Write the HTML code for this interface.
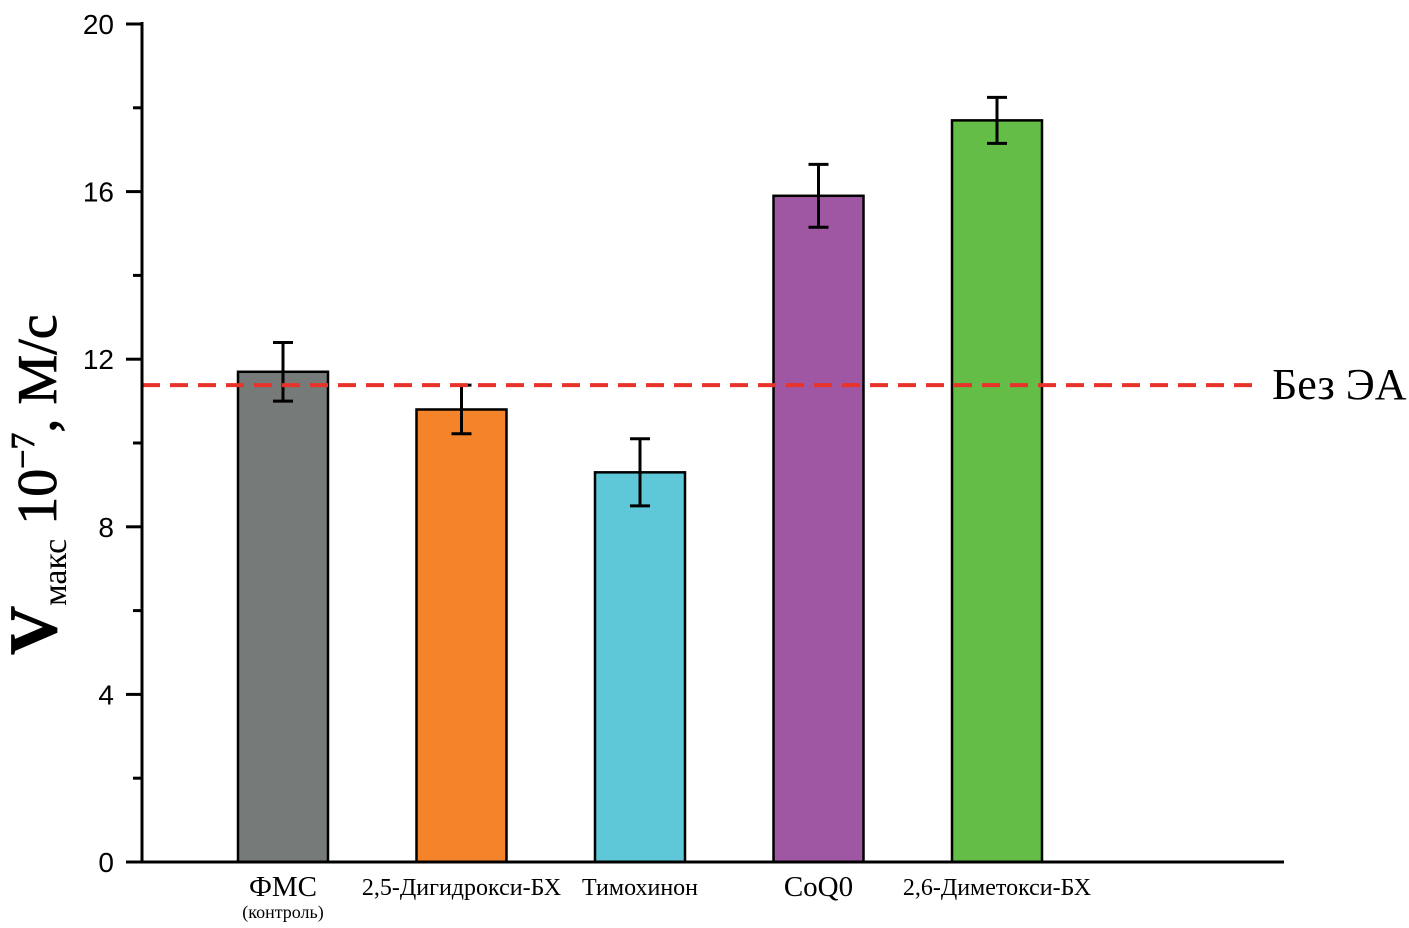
<!DOCTYPE html>
<html><head><meta charset="utf-8"><style>body{margin:0;background:#fff}svg{display:block}</style></head>
<body>
<svg width="1409" height="928" xmlns="http://www.w3.org/2000/svg" id="chart">
<g id="plot"></g>
<text transform="translate(56,655) rotate(-90)" font-family="Liberation Serif, serif" font-size="56" fill="#000" stroke="#000" stroke-width="0.8"><tspan font-size="68" font-weight="bold">V</tspan><tspan font-size="34" stroke-width="0" dy="10">макс</tspan><tspan dy="-10"> 10</tspan><tspan font-size="34" dy="-22">−7</tspan><tspan dy="22">, М/с</tspan></text>
<text x="1272" y="399" font-family="Liberation Serif, serif" font-size="44" fill="#000">Без ЭА</text>
</svg>
<script>
const categories=["ФМС","2,5-Дигидрокси-БХ","Тимохинон","CoQ0","2,6-Диметокси-БХ"];
const values=[11.7,10.8,9.3,15.9,17.7];
const errors=[0.7,0.58,0.8,0.75,0.55];
const colors=["#767a78","#f5832a","#5ec8d8","#a057a3","#63bd47"];
const yTicks=[0,4,8,12,16,20];
const minorTicks=[2,6,10,14,18];
const refValue=11.38;
const NS="http://www.w3.org/2000/svg";
const g=document.getElementById('plot');
const y=v=>862-v*41.9;
const xc=i=>283+i*178.5;
function el(t,a,txt){const e=document.createElementNS(NS,t);for(const k in a)e.setAttribute(k,a[k]);if(txt!==undefined)e.textContent=txt;g.appendChild(e);return e;}
values.forEach((v,i)=>{
 const b=el('rect',{x:xc(i)-45,y:y(v),width:90,height:862-y(v),fill:colors[i],stroke:'#000','stroke-width':2.5});
 
 
 const e=errors[i];
 const eb=el('path',{d:`M${xc(i)},${y(v+e)}V${y(v-e)}M${xc(i)-10},${y(v+e)}H${xc(i)+10}M${xc(i)-10},${y(v-e)}H${xc(i)+10}`,stroke:'#000','stroke-width':3,fill:'none'});
 
 
 const big=(i==0||i==3);
 const t=el('text',{x:xc(i),y:big?896:895,'text-anchor':'middle','font-family':'Liberation Serif, serif','font-size':big?29:24},categories[i]);
 
 
});
const sub=el('text',{x:xc(0),y:918,'text-anchor':'middle','font-family':'Liberation Serif, serif','font-size':18},'(контроль)');


const rl=el('line',{x1:142,x2:1262,y1:y(refValue),y2:y(refValue),stroke:'#e8332a','stroke-width':4,'stroke-dasharray':'18,10'});


const ax=el('path',{d:'M142,22V862H1284',stroke:'#000','stroke-width':3,fill:'none'});


yTicks.forEach(v=>{
 const tk=el('line',{x1:126,x2:142,y1:y(v),y2:y(v),stroke:'#000','stroke-width':3});
 
 
 const tl=el('text',{x:114,y:y(v)+10,'text-anchor':'end','font-family':'Liberation Sans, sans-serif','font-size':28},String(v));
 
 
});
minorTicks.forEach(v=>{
 const tk=el('line',{x1:133,x2:142,y1:y(v),y2:y(v),stroke:'#000','stroke-width':3});
 
 
});
</script>
</body></html>
